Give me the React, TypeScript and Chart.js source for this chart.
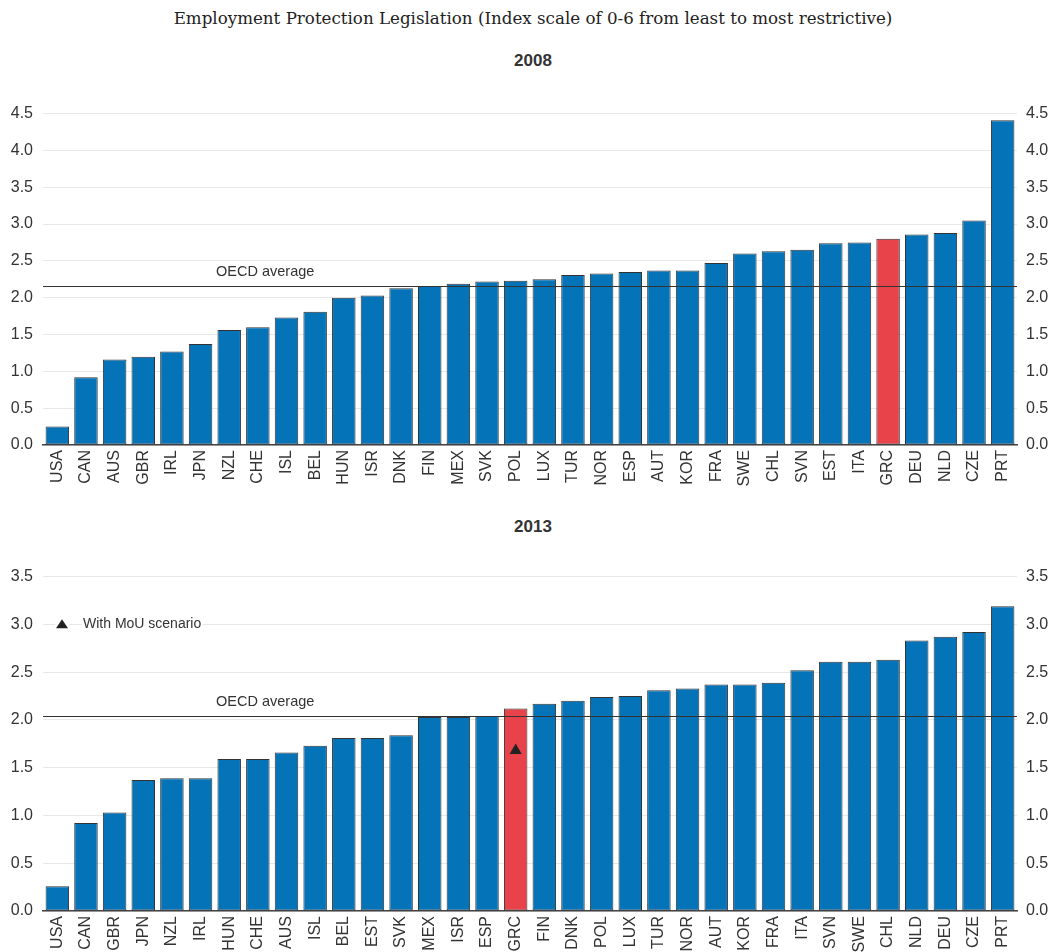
import React, { useEffect, useRef } from "react";
import { Chart, registerables } from "chart.js";

Chart.register(...registerables);

const TITLE = "Employment Protection Legislation (Index scale of 0-6 from least to most restrictive)";

const COUNTRIES_2008 = ["USA","CAN","AUS","GBR","IRL","JPN","NZL","CHE","ISL","BEL","HUN","ISR","DNK","FIN","MEX","SVK","POL","LUX","TUR","NOR","ESP","AUT","KOR","FRA","SWE","CHL","SVN","EST","ITA","GRC","DEU","NLD","CZE","PRT"];
const VALUES_2008 = [0.25,0.92,1.16,1.20,1.27,1.37,1.56,1.60,1.73,1.81,2.00,2.03,2.13,2.16,2.19,2.22,2.23,2.25,2.31,2.33,2.35,2.37,2.37,2.47,2.60,2.63,2.65,2.74,2.75,2.80,2.86,2.88,3.05,4.41];
const OECD_2008 = 2.16;

const COUNTRIES_2013 = ["USA","CAN","GBR","JPN","NZL","IRL","HUN","CHE","AUS","ISL","BEL","EST","SVK","MEX","ISR","ESP","GRC","FIN","DNK","POL","LUX","TUR","NOR","AUT","KOR","FRA","ITA","SVN","SWE","CHL","NLD","DEU","CZE","PRT"];
const VALUES_2013 = [0.26,0.92,1.03,1.37,1.39,1.39,1.59,1.59,1.66,1.73,1.81,1.81,1.84,2.03,2.03,2.04,2.12,2.17,2.20,2.24,2.25,2.31,2.33,2.37,2.37,2.39,2.52,2.61,2.61,2.63,2.83,2.87,2.92,3.19];
const OECD_2013 = 2.04;
const MOU_COUNTRY = "GRC";
const MOU_VALUE = 1.68;
const MOU_LABEL = "With MoU scenario";

const BLUE = "#0573b8";
const RED = "#e8424a";
const BORDER = "#333333";
const TEXT = "#333333";
const FONT = "'Liberation Sans', Arial, sans-serif";

Chart.defaults.font.family = FONT;
Chart.defaults.color = TEXT;

function makeAvgPlugin(avg: number) {
  return {
    id: "oecdAvg",
    afterDatasetsDraw(chart: any) {
      const { ctx, chartArea, scales } = chart;
      const y = Math.round(scales.y.getPixelForValue(avg)) + 0.5;
      ctx.save();
      ctx.strokeStyle = "#333";
      ctx.lineWidth = 1.2;
      ctx.beginPath();
      ctx.moveTo(chartArea.left, y);
      ctx.lineTo(chartArea.right, y);
      ctx.stroke();
      ctx.fillStyle = TEXT;
      ctx.font = `14.5px ${FONT}`;
      ctx.textAlign = "left";
      ctx.textBaseline = "middle";
      ctx.fillText("OECD average", 216, y - 15);
      ctx.restore();
    },
  };
}

const legendPlugin = {
  id: "mouLegend",
  afterDraw(chart: any) {
    const { ctx, scales } = chart;
    const y = scales.y.getPixelForValue(3.0);
    ctx.save();
    ctx.font = `14px ${FONT}`;
    const w = ctx.measureText(MOU_LABEL).width;
    ctx.fillStyle = "#fff";
    ctx.fillRect(55, y - 8, 14, 16);
    ctx.fillRect(82, y - 8, w + 2, 16);
    ctx.fillStyle = "#222";
    ctx.beginPath();
    ctx.moveTo(62, y - 5);
    ctx.lineTo(68, y + 4);
    ctx.lineTo(56, y + 4);
    ctx.closePath();
    ctx.fill();
    ctx.fillStyle = TEXT;
    ctx.textAlign = "left";
    ctx.textBaseline = "middle";
    ctx.fillText(MOU_LABEL, 83, y);
    ctx.restore();
  },
};

function buildConfig(labels: string[], values: number[], max: number, xHeight: number, avg: number, withMou: boolean) {
  const datasets: any[] = [];
  if (withMou) {
    datasets.push({
      type: "line",
      data: labels.map((c) => (c === MOU_COUNTRY ? MOU_VALUE : null)),
      showLine: false,
      pointStyle: "triangle",
      pointRadius: 7,
      pointBackgroundColor: "#222",
      pointBorderColor: "#222",
      pointBorderWidth: 0,
      yAxisID: "y",
      order: 0,
    });
  }
  datasets.push({
    type: "bar",
    data: values,
    backgroundColor: labels.map((c) => (c === "GRC" ? RED : BLUE)),
    borderColor: BORDER,
    borderWidth: 1,
    borderSkipped: false,
    categoryPercentage: 1,
    barPercentage: 0.82,
    yAxisID: "y",
    order: 1,
  });
  const yTicks = {
    stepSize: 0.5,
    padding: 10,
    color: TEXT,
    font: { size: 16 },
    callback: (v: any) => Number(v).toFixed(1),
  };
  return {
    type: "bar",
    data: { labels, datasets },
    options: {
      animation: false,
      responsive: false,
      events: [],
      layout: { padding: 0 },
      plugins: { legend: { display: false }, tooltip: { enabled: false }, title: { display: false } },
      scales: {
        x: {
          grid: { display: false, drawTicks: false },
          border: { display: true, color: "#444", width: 1.5 },
          ticks: { autoSkip: false, minRotation: 90, maxRotation: 90, padding: 5, color: TEXT, font: { size: 16 } },
          afterFit: (s: any) => { s.height = xHeight; },
        },
        y: {
          position: "left",
          min: 0,
          max,
          grid: { color: "#e8e8e8", lineWidth: 1, drawTicks: false },
          border: { display: false },
          ticks: yTicks,
          afterFit: (s: any) => { s.width = 43; },
        },
        y2: {
          position: "right",
          min: 0,
          max,
          grid: { display: false, drawTicks: false },
          border: { display: false },
          ticks: { ...yTicks, padding: 9 },
          afterFit: (s: any) => { s.width = 43; },
        },
      },
    },
    plugins: withMou ? [makeAvgPlugin(avg), legendPlugin] : [makeAvgPlugin(avg)],
  };
}

function Panel({ top, height, config }: { top: number; height: number; config: any }) {
  const ref = useRef<HTMLCanvasElement>(null);
  useEffect(() => {
    if (!ref.current) return;
    const chart = new Chart(ref.current, config);
    return () => chart.destroy();
  }, []);
  return (
    <canvas
      ref={ref}
      width={1060}
      height={height}
      style={{ position: "absolute", left: 0, top, width: 1060, height, display: "block" }}
    />
  );
}

export default function App() {
  const c1 = buildConfig(COUNTRIES_2008, VALUES_2008, 4.5, 45, OECD_2008, false);
  const c2 = buildConfig(COUNTRIES_2013, VALUES_2013, 3.5, 41, OECD_2013, true);
  const panelTitle: React.CSSProperties = {
    position: "absolute",
    left: 0,
    width: 1066,
    textAlign: "center",
    fontFamily: FONT,
    fontWeight: "bold",
    fontSize: 17,
    lineHeight: "20px",
    color: TEXT,
  };
  return (
    <div style={{ position: "absolute", left: 0, top: 0, width: 1060, height: 952, background: "#fff", overflow: "hidden" }}>
      <div
        style={{
          position: "absolute",
          left: 0,
          top: 8,
          width: 1066,
          textAlign: "center",
          fontFamily: "'DejaVu Serif', serif",
          fontSize: 16.7,
          lineHeight: "20px",
          color: "#222",
        }}
      >
        {TITLE}
      </div>
      <div style={{ ...panelTitle, top: 51 }}>2008</div>
      <Panel top={94} height={396} config={c1} />
      <div style={{ ...panelTitle, top: 517 }}>2013</div>
      <Panel top={557} height={395} config={c2} />
    </div>
  );
}
